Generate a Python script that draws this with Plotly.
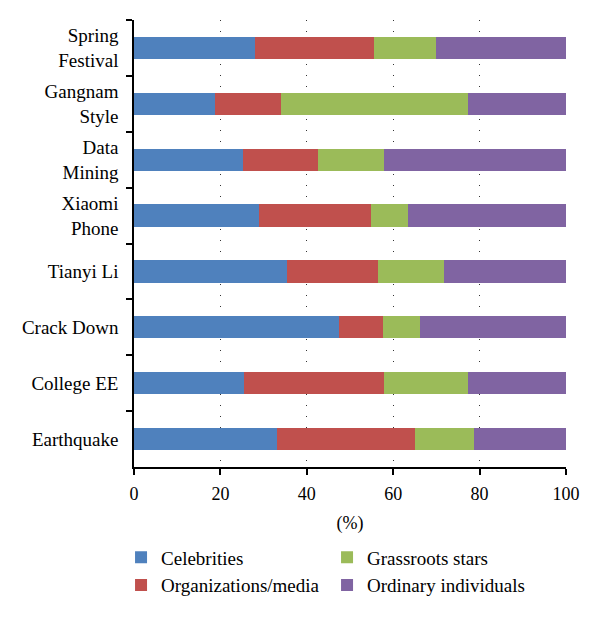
import plotly.graph_objects as go

categories = ["Spring<br>Festival", "Gangnam<br>Style", "Data<br>Mining", "Xiaomi<br>Phone",
              "Tianyi Li", "Crack Down", "College EE", "Earthquake"]
celebrities = [28.0, 18.7, 25.3, 28.9, 35.5, 47.4, 25.5, 33.2]
organizations = [27.6, 15.4, 17.4, 26.0, 21.0, 10.3, 32.4, 31.8]
grassroots = [14.3, 43.3, 15.2, 8.6, 15.2, 8.5, 19.4, 13.8]
ordinary = [30.1, 22.6, 42.1, 36.5, 28.3, 33.8, 22.7, 21.2]

series_names = ["Celebrities", "Organizations/media", "Grassroots stars", "Ordinary individuals"]
series_values = [celebrities, organizations, grassroots, ordinary]
colors = ["#4F81BD", "#C0504D", "#9BBB59", "#8064A2"]
legend_ranks = [1, 3, 2, 4]

font_family = "Liberation Serif, Times New Roman, serif"

fig = go.Figure()
for name, vals, col, rank in zip(series_names, series_values, colors, legend_ranks):
    fig.add_trace(go.Bar(
        y=categories, x=vals, name=name, orientation="h",
        marker=dict(color=col, line=dict(width=0)),
        legendrank=rank,
    ))

fig.update_layout(
    width=600, height=618,
    barmode="stack", bargap=0.6,
    plot_bgcolor="white", paper_bgcolor="white",
    margin=dict(l=126, r=42, t=12, b=159),
    font=dict(family=font_family, size=18, color="black"),
    showlegend=True,
    legend=dict(
        orientation="h", x=-0.03, xanchor="left", y=-0.16, yanchor="top",
        entrywidth=161, traceorder="normal",
        font=dict(size=19), tracegroupgap=0, itemwidth=30,
    ),
    xaxis=dict(
        range=[0, 100], tickvals=[0, 20, 40, 60, 80, 100],
        showline=True, linecolor="black", linewidth=1.5,
        ticks="outside", ticklen=6, tickcolor="black", tickwidth=1.5,
        showgrid=True, gridcolor="#333333", gridwidth=1, griddash="1px,10px",
        zeroline=False, tickfont=dict(size=18), automargin=False,
        ticklabelstandoff=4,
        title=dict(text="(%)", font=dict(size=18), standoff=13),
    ),
    yaxis=dict(
        autorange="reversed",
        showline=True, linecolor="black", linewidth=1.5,
        ticks="outside", ticklen=6, tickcolor="black", tickwidth=1.5,
        tickson="boundaries", showgrid=False, zeroline=False,
        tickfont=dict(size=19), ticklabelstandoff=10, automargin=False,
    ),
)

fig.write_html("out.html")
